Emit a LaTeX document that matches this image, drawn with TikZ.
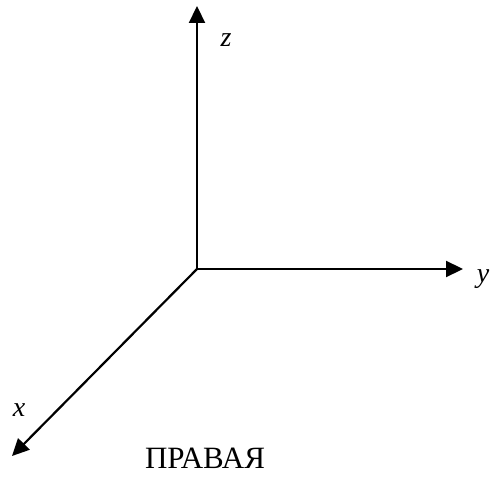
\documentclass[tikz,border=0pt]{standalone}
\usepackage{fontspec}
\setmainfont{Liberation Serif}
\usetikzlibrary{arrows.meta}
\begin{document}
\begin{tikzpicture}[x=1pt,y=-1pt,
  axis/.style={line width=2.2pt,-{Triangle[length=17pt,width=16pt]}},
  lbl/.style={font=\fontsize{28}{28}\selectfont\itshape,inner sep=0pt}]
\useasboundingbox (0,0) rectangle (490,481);
\coordinate (o) at (197,269);
\coordinate (zt) at (197,6);
\coordinate (yt) at (463,269);
\coordinate (xt) at (12,456);
\draw[axis] (o) -- (zt);
\draw[axis] (o) -- (yt);
\draw[axis] (o) -- (xt);
\node[lbl] (zl) at (226,40) {z};
\node[lbl] (yl) at (483,279) {y};
\node[lbl] (xl) at (19,410) {x};
\node[inner sep=0pt,font=\fontsize{31}{31}\selectfont] (t) at (205,458) {ПРАВАЯ};
\end{tikzpicture}
\end{document}
